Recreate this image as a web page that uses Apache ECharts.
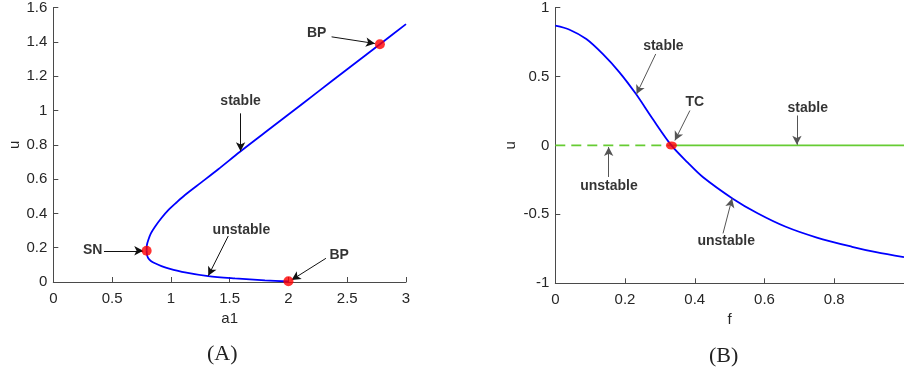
<!DOCTYPE html>
<html>
<head>
<meta charset="utf-8">
<script src="https://cdn.jsdelivr.net/npm/echarts@6/dist/echarts.min.js"></script>
<style>
  html, body { margin: 0; padding: 0; background: #fff; }
  #chart { width: 904px; height: 375px; }
</style>
</head>
<body>
<div id="chart"></div>
<script>
// 左图 (A)：a1-u 分岔曲线，上支与下支均从 SN 点出发
const a1Upper = [0.794, 0.796, 0.808, 0.83, 0.865, 0.92, 0.978, 1.05, 1.12, 1.262, 1.403, 1.588, 1.8, 2.0, 2.25, 2.5, 2.778, 3.0]
const uUpper = [0.182, 0.215, 0.245, 0.283, 0.322, 0.373, 0.419, 0.465, 0.507, 0.582, 0.657, 0.759, 0.871, 0.976, 1.108, 1.24, 1.386, 1.503]
const a1Lower = [0.794, 0.797, 0.808, 0.83, 0.865, 0.92, 0.978, 1.12, 1.318, 1.545, 1.8, 2.0]
const uLower = [0.182, 0.158, 0.138, 0.122, 0.109, 0.093, 0.08, 0.056, 0.034, 0.021, 0.01, 0.003]
const pointsA = [[0.794, 0.182], [2.778, 1.386], [2.0, 0.004]]

// 右图 (B)：f-u 曲线
const fBlue = [0, 0.041, 0.089, 0.136, 0.184, 0.231, 0.279, 0.333, 0.38, 0.423, 0.509, 0.58, 0.661, 0.75, 0.851, 0.92, 1.0]
const uBlue = [0.868, 0.839, 0.771, 0.663, 0.53, 0.374, 0.193, 0.0, -0.125, -0.229, -0.386, -0.492, -0.59, -0.668, -0.735, -0.774, -0.81]
const fDashed = [0, 0.333]
const fSolid = [0.333, 1.0]
const uZero = [0, 0]
const pointsB = [[0.333, 0.0]]

const xTicksA = [0, 3, 0.5]
const yTicksA = [0, 1.6, 0.2]
const xTicksB = [0, 1, 0.2]
const yTicksB = [-1, 1, 0.5]

// 标注：文字位置与箭头 [起点, 终点]
const notesA = [
  { text: 'BP', at: [2.24, 1.45], from: [2.367, 1.429], to: [2.735, 1.39] },
  { text: 'stable', at: [1.593, 1.052], from: [1.593, 0.983], to: [1.593, 0.762] },
  { text: 'SN', at: [0.335, 0.187], from: [0.431, 0.182], to: [0.765, 0.182] },
  { text: 'unstable', at: [1.6, 0.303], from: [1.488, 0.268], to: [1.318, 0.036] },
  { text: 'BP', at: [2.432, 0.157], from: [2.319, 0.138], to: [2.027, 0.012] }
]
const notesB = [
  { text: 'stable', at: [0.31, 0.723], from: [0.288, 0.663], to: [0.233, 0.372] },
  { text: 'TC', at: [0.4, 0.313], from: [0.386, 0.253], to: [0.343, 0.036] },
  { text: 'stable', at: [0.724, 0.273], from: [0.693, 0.217], to: [0.693, 0.005] },
  { text: 'unstable', at: [0.154, -0.294], from: [0.153, -0.229], to: [0.153, -0.012] },
  { text: 'unstable', at: [0.49, -0.695], from: [0.481, -0.638], to: [0.507, -0.385] }
]

const zip = (xs, ys) => xs.map((x, i) => [x, ys[i]])

const tickFont = { fontFamily: 'Liberation Sans', fontSize: 15, color: '#262626' }
const axisLine = { show: true, onZero: false, lineStyle: { color: '#4a4a4a', width: 1 } }
const axisTick = { show: true, inside: true, length: 5, lineStyle: { color: '#4a4a4a' } }

function valueAxis(ticks, idx, extra) {
  return Object.assign({
    type: 'value',
    gridIndex: idx,
    min: ticks[0],
    max: ticks[1],
    interval: ticks[2],
    axisLine: axisLine,
    axisTick: axisTick,
    splitLine: { show: false },
    nameLocation: 'middle',
    nameTextStyle: { fontFamily: 'Liberation Sans', fontSize: 15, color: '#262626' }
  }, extra)
}

function noteSeries(notes, idx, lineColor) {
  return [{
    type: 'scatter',
    xAxisIndex: idx,
    yAxisIndex: idx,
    symbolSize: 0,
    silent: true,
    z: 6,
    data: notes.map(n => ({ name: n.text, value: n.at })),
    label: {
      show: true,
      position: 'inside',
      formatter: '{b}',
      fontFamily: 'Liberation Sans',
      fontWeight: 'bold',
      fontSize: 14,
      color: '#000',
      textBorderWidth: 0,
      textBorderColor: 'transparent'
    },
    markLine: {
      silent: true,
      symbol: ['none', 'arrow'],
      symbolSize: [7, 9],
      label: { show: false },
      lineStyle: { color: lineColor, width: 1, type: 'solid' },
      data: notes.map(n => [{ coord: n.from }, { coord: n.to }])
    }
  }]
}

const chart = echarts.init(document.getElementById('chart'))
chart.setOption({
  animation: false,
  grid: [
    { left: 53.3, top: 7.3, width: 352.7, height: 274.7 },
    { left: 555.3, top: 6.7, width: 350, height: 276.6 }
  ],
  xAxis: [
    valueAxis(xTicksA, 0, { name: 'a1', nameGap: 28, axisLabel: Object.assign({ margin: 9 }, tickFont) }),
    valueAxis(xTicksB, 1, { name: 'f', nameGap: 28, axisLabel: Object.assign({ margin: 9, showMaxLabel: false }, tickFont) })
  ],
  yAxis: [
    valueAxis(yTicksA, 0, { name: 'u', nameGap: 31, axisLabel: Object.assign({ margin: 6 }, tickFont) }),
    valueAxis(yTicksB, 1, { name: 'u', nameGap: 37, axisLabel: Object.assign({ margin: 6 }, tickFont) })
  ],
  graphic: [
    { type: 'text', left: 207, top: 343, style: { text: '(A)', font: '22px "Liberation Serif"', fill: '#222' } },
    { type: 'text', left: 709, top: 345, style: { text: '(B)', font: '22px "Liberation Serif"', fill: '#222' } }
  ],
  series: [
    {
      type: 'line', xAxisIndex: 0, yAxisIndex: 0, showSymbol: false, smooth: 0.3,
      lineStyle: { color: '#0000ff', width: 1.8 }, data: zip(a1Upper, uUpper)
    },
    {
      type: 'line', xAxisIndex: 0, yAxisIndex: 0, showSymbol: false, smooth: 0.3,
      lineStyle: { color: '#0000ff', width: 1.8 }, data: zip(a1Lower, uLower)
    },
    {
      type: 'scatter', xAxisIndex: 0, yAxisIndex: 0, symbolSize: 10, z: 5,
      itemStyle: { color: '#ff0000' }, data: pointsA
    },
    {
      type: 'line', xAxisIndex: 1, yAxisIndex: 1, showSymbol: false,
      lineStyle: { color: '#66cc33', width: 1.8, type: [10, 6] }, data: zip(fDashed, uZero)
    },
    {
      type: 'line', xAxisIndex: 1, yAxisIndex: 1, showSymbol: false,
      lineStyle: { color: '#66cc33', width: 1.8 }, data: zip(fSolid, uZero)
    },
    {
      type: 'line', xAxisIndex: 1, yAxisIndex: 1, showSymbol: false, smooth: 0.3,
      lineStyle: { color: '#0000ff', width: 1.8 }, data: zip(fBlue, uBlue)
    },
    {
      type: 'scatter', xAxisIndex: 1, yAxisIndex: 1, symbolSize: [11, 8], z: 5,
      itemStyle: { color: '#ff0000' }, data: pointsB
    },
    ...noteSeries(notesA, 0, '#111'),
    ...noteSeries(notesB, 1, '#555')
  ]
})
</script>
</body>
</html>
